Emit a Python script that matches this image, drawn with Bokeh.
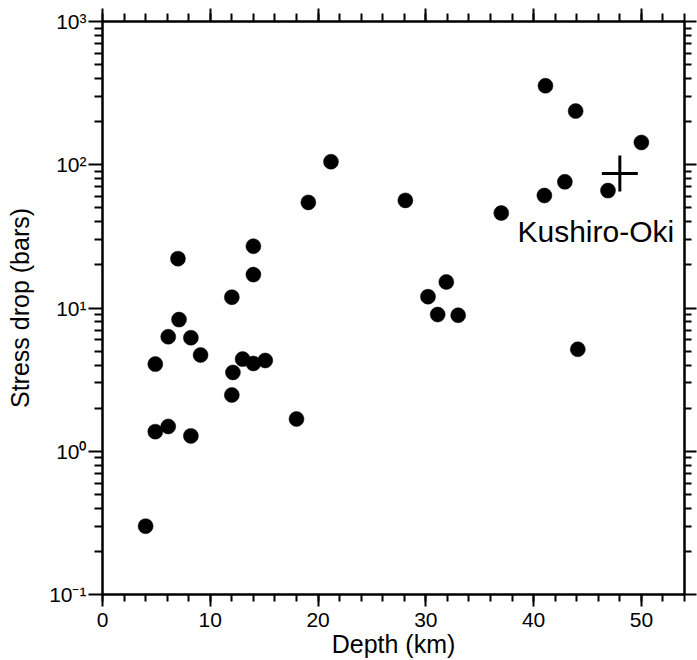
from bokeh.plotting import figure
from bokeh.models import (LinearAxis, LogAxis, SingleIntervalTicker, FixedTicker,
                          CustomJSTickFormatter, Range1d, ColumnDataSource)
from bokeh.core.properties import value
from bokeh.embed import file_html
from bokeh.resources import INLINE

# ---- data ----
depth_km = [4.0, 4.9, 4.9, 6.1, 6.1, 7.0, 7.1, 8.2, 8.2, 9.1,
            12.0, 12.0, 12.1, 13.0, 14.0, 14.0, 14.0, 15.1, 18.0, 19.1,
            21.2, 28.1, 30.2, 31.1, 31.9, 33.0, 37.0, 41.0, 41.1, 42.9,
            43.9, 44.1, 46.9, 50.0]
stress_bars = [0.30, 1.37, 4.06, 1.49, 6.3, 22.1, 8.3, 6.2, 1.28, 4.7,
               11.9, 2.47, 3.55, 4.4, 4.1, 17.1, 27.0, 4.3, 1.68, 54.6,
               105, 56.4, 12.0, 9.0, 15.2, 8.9, 46, 61, 356, 76,
               237, 5.15, 66, 143]

kushiro_depth = [48.0]
kushiro_stress = [87.0]
kushiro_label = ["Kushiro-Oki"]
kushiro_label_x = [38.5]
kushiro_label_y = [34.0]

x_ticks = [0, 10, 20, 30, 40, 50]
y_ticks = [0.1, 1, 10, 100, 1000]
y_tick_labels = ["10\u207b\u00b9", "10\u2070", "10\u00b9", "10\u00b2", "10\u00b3"]
y_minor = [m * 10.0 ** e for e in range(-1, 3) for m in range(2, 10)]

FONT = "Liberation Sans"

p = figure(width=697, height=660, x_range=Range1d(0, 54), y_range=Range1d(0.1, 1000),
           y_axis_type="log", output_backend="svg", toolbar_location=None,
           min_border_left=102, min_border_top=21, min_border_right=13, min_border_bottom=64,
           background_fill_color="white", border_fill_color="white")
p.xgrid.visible = False
p.ygrid.visible = False
p.outline_line_color = "black"
p.outline_line_width = 2

xt = SingleIntervalTicker(interval=10, num_minor_ticks=5)
yt = FixedTicker(ticks=y_ticks, minor_ticks=y_minor)
yfmt = CustomJSTickFormatter(args=dict(vals=y_ticks, labels=y_tick_labels), code="""
let best = 0, bd = 1e9;
for (let i = 0; i < vals.length; i++) {
  const d = Math.abs(Math.log10(vals[i]) - Math.log10(tick));
  if (d < bd) { bd = d; best = i; }
}
return labels[best];
""")


def style(ax, tick_out, minor_out):
    ax.axis_line_color = "black"
    ax.axis_line_width = 2
    ax.major_tick_line_color = "black"
    ax.major_tick_line_width = 2
    ax.minor_tick_line_color = "black"
    ax.minor_tick_line_width = 2
    ax.major_tick_in = 0
    ax.minor_tick_in = 0
    ax.major_tick_out = tick_out
    ax.minor_tick_out = minor_out
    ax.major_label_text_color = "black"
    ax.axis_label_text_color = "black"


# bottom axis
xa = p.xaxis[0]
xa.ticker = xt
style(xa, 12, 7)
xa.axis_label = "Depth (km)"
xa.axis_label_text_font = FONT
xa.axis_label_text_font_size = "25px"
xa.axis_label_text_font_style = "normal"
xa.axis_label_standoff = 0
xa.major_label_text_font = FONT
xa.major_label_text_font_size = "21px"
xa.major_label_standoff = 6

# left axis
ya = p.yaxis[0]
ya.ticker = yt
ya.formatter = yfmt
style(ya, 14, 8)
ya.axis_label = "Stress drop (bars)"
ya.axis_label_text_font = FONT
ya.axis_label_text_font_size = "25px"
ya.axis_label_text_font_style = "normal"
ya.axis_label_standoff = 12
ya.major_label_text_font = FONT
ya.major_label_text_font_size = "21px"
ya.major_label_standoff = 2

# top axis (mirror, ticks only)
ta = LinearAxis(ticker=xt)
style(ta, 13, 8)
ta.major_label_text_font_size = "1px"
ta.major_label_text_color = None
ta.major_label_standoff = 0
p.add_layout(ta, "above")

# right axis (mirror, ticks only)
ra = LogAxis(ticker=yt)
style(ra, 12, 7)
ra.major_label_text_font_size = "1px"
ra.major_label_text_color = None
ra.major_label_standoff = 0
p.add_layout(ra, "right")

src = ColumnDataSource(dict(x=depth_km, y=stress_bars))
p.scatter("x", "y", source=src, marker="circle", size=15,
          fill_color="black", line_color="black", line_width=0.5)

p.scatter(kushiro_depth, kushiro_stress, marker="cross", size=36,
          line_color="black", line_width=3)

p.text(x=kushiro_label_x, y=kushiro_label_y, text=kushiro_label,
       text_font=value(FONT), text_font_size="30px", text_color="black",
       text_align="left", text_baseline="alphabetic")

with open("out.html", "w", encoding="utf-8") as f:
    f.write(file_html(p, INLINE))
